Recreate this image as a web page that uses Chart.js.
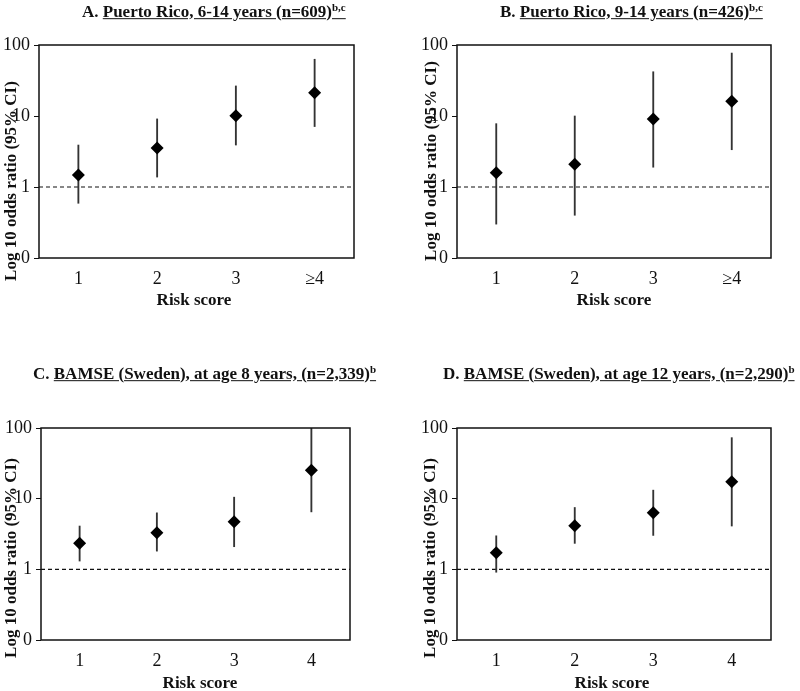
<!DOCTYPE html>
<html>
<head>
<meta charset="utf-8">
<script src="https://cdn.jsdelivr.net/npm/chart.js@4.4.1/dist/chart.umd.min.js"></script>
<style>
    body { margin: 0; background: #fff; }
    #wrap { position: relative; width: 800px; height: 691px; overflow: hidden; font-family: 'Liberation Serif', 'DejaVu Serif', serif; color: #111; }
    canvas { position: absolute; }
    .title { position: absolute; font-weight: bold; font-size: 17px; white-space: nowrap; transform: translateY(-50%); }
    .title span { text-decoration: underline; }
    .title sup { font-size: 11px; }
    .ylab { position: absolute; font-weight: bold; font-size: 17px; white-space: nowrap; transform: translate(-50%, -50%) rotate(-90deg); }
    .xlab { position: absolute; font-weight: bold; font-size: 17px; white-space: nowrap; transform: translate(-50%, -50%); }
</style>
</head>
<body>
<div id="wrap">
    <canvas id="chartA" width="400" height="300" style="left:0;top:0"></canvas>
    <canvas id="chartB" width="400" height="300" style="left:400px;top:0"></canvas>
    <canvas id="chartC" width="400" height="300" style="left:0;top:383px"></canvas>
    <canvas id="chartD" width="400" height="300" style="left:400px;top:383px"></canvas>

    <div class="title" style="left:82px;top:11px">A. <span>Puerto Rico, 6-14 years (n=609)<sup>b,c</sup></span></div>
    <div class="title" style="left:500px;top:11px">B. <span>Puerto Rico, 9-14 years (n=426)<sup>b,c</sup></span></div>
    <div class="title" style="left:33px;top:373px">C. <span>BAMSE (Sweden), at age 8 years, (n=2,339)<sup>b</sup></span></div>
    <div class="title" style="left:443px;top:373px">D. <span>BAMSE (Sweden), at age 12 years, (n=2,290)<sup>b</sup></span></div>

    <div class="ylab" style="left:11px;top:181px">Log 10 odds ratio (95% CI)</div>
    <div class="ylab" style="left:431px;top:161px">Log 10 odds ratio (95% CI)</div>
    <div class="ylab" style="left:11px;top:558px">Log 10 odds ratio (95% CI)</div>
    <div class="ylab" style="left:430px;top:558px">Log 10 odds ratio (95% CI)</div>

    <div class="xlab" style="left:194px;top:300px">Risk score</div>
    <div class="xlab" style="left:614px;top:300px">Risk score</div>
    <div class="xlab" style="left:200px;top:683px">Risk score</div>
    <div class="xlab" style="left:612px;top:683px">Risk score</div>
</div>

<script>
const riskScoresPR = ['1', '2', '3', '≥4'];
const riskScoresBamse = ['1', '2', '3', '4'];

// A. Puerto Rico, 6-14 years
const oddsA = [1.48, 3.55, 10.1, 21.3];
const lowA = [0.59, 1.38, 3.9, 7.1];
const highA = [3.9, 9.1, 26.5, 63];

// B. Puerto Rico, 9-14 years
const oddsB = [1.59, 2.09, 9.1, 16.1];
const lowB = [0.30, 0.40, 1.9, 3.35];
const highB = [7.8, 10, 42, 77];

// C. BAMSE, age 8
const oddsC = [2.33, 3.29, 4.7, 25.3];
const lowC = [1.31, 1.81, 2.09, 6.5];
const highC = [4.1, 6.3, 10.5, 100];

// D. BAMSE, age 12
const oddsD = [1.72, 4.13, 6.3, 17.3];
const lowD = [0.91, 2.33, 3.02, 4.1];
const highD = [2.98, 7.5, 13.2, 73];

const yTickValues = [0.1, 1, 10, 100];
const yTickLabels = ['0', '1', '10', '100'];
const referenceLine = 1;

const FONT = "'Liberation Serif', serif";
const INK = '#111';


const framePlugin = {
    id: 'frame',
    beforeDatasetsDraw(chart) {
        const { ctx, chartArea: a, scales: { y } } = chart;
        const yRef = y.getPixelForValue(referenceLine);
        ctx.save();
        ctx.strokeStyle = INK;
        ctx.lineWidth = 1.2;
        ctx.setLineDash([4, 3]);
        ctx.beginPath();
        ctx.moveTo(a.left, yRef);
        ctx.lineTo(a.right, yRef);
        ctx.stroke();
        ctx.restore();
    },
    afterDraw(chart) {
        const { ctx, chartArea: a } = chart;
        ctx.save();
        ctx.strokeStyle = INK;
        ctx.lineWidth = 1.5;
        ctx.strokeRect(a.left, a.top, a.right - a.left, a.bottom - a.top);
        ctx.restore();
    }
};


function makeChart(canvasId, labels, odds, low, high, box) {
    const canvas = document.getElementById(canvasId);

    return new Chart(canvas, {
        data: {
            labels: labels,
            datasets: [
                {
                    type: 'line',
                    data: odds,
                    showLine: false,
                    pointStyle: 'rectRot',
                    pointRadius: 6.5,
                    pointBackgroundColor: '#000',
                    pointBorderColor: '#000',
                    pointBorderWidth: 0,
                    order: 0
                },
                {
                    type: 'bar',
                    data: low.map((v, i) => [v, high[i]]),
                    barThickness: 1.2,
                    backgroundColor: '#333',
                    borderWidth: 0,
                    order: 1
                }
            ]
        },
        options: {
            responsive: false,
            animation: false,
            layout: {
                padding: { left: 0, right: box.right, top: box.top, bottom: box.bottom }
            },
            plugins: {
                legend: { display: false },
                tooltip: { enabled: false }
            },
            scales: {
                x: {
                    grid: { display: false, drawTicks: false, tickLength: 0 },
                    border: { display: false },
                    ticks: {
                        font: { family: FONT, size: 18 },
                        color: INK,
                        padding: 10,
                        maxRotation: 0
                    },
                    afterFit: scale => { scale.height = 40; }
                },
                y: {
                    type: 'logarithmic',
                    min: 0.1,
                    max: 100,
                    afterBuildTicks: scale => {
                        scale.ticks = yTickValues.map(v => ({ value: v }));
                    },
                    afterFit: scale => { scale.width = box.left; },
                    grid: {
                        drawOnChartArea: false,
                        tickLength: 5,
                        color: INK
                    },
                    border: { display: false },
                    ticks: {
                        font: { family: FONT, size: 18 },
                        color: INK,
                        padding: 4,
                        callback: value => yTickLabels[yTickValues.indexOf(value)]
                    }
                }
            }
        },
        plugins: [framePlugin]
    });
}


makeChart('chartA', riskScoresPR, oddsA, lowA, highA, { left: 39, right: 46, top: 45, bottom: 2 });
makeChart('chartB', riskScoresPR, oddsB, lowB, highB, { left: 57, right: 29, top: 45, bottom: 2 });
makeChart('chartC', riskScoresBamse, oddsC, lowC, highC, { left: 41, right: 50, top: 45, bottom: 3 });
makeChart('chartD', riskScoresBamse, oddsD, lowD, highD, { left: 57, right: 29, top: 45, bottom: 3 });
</script>
</body>
</html>
